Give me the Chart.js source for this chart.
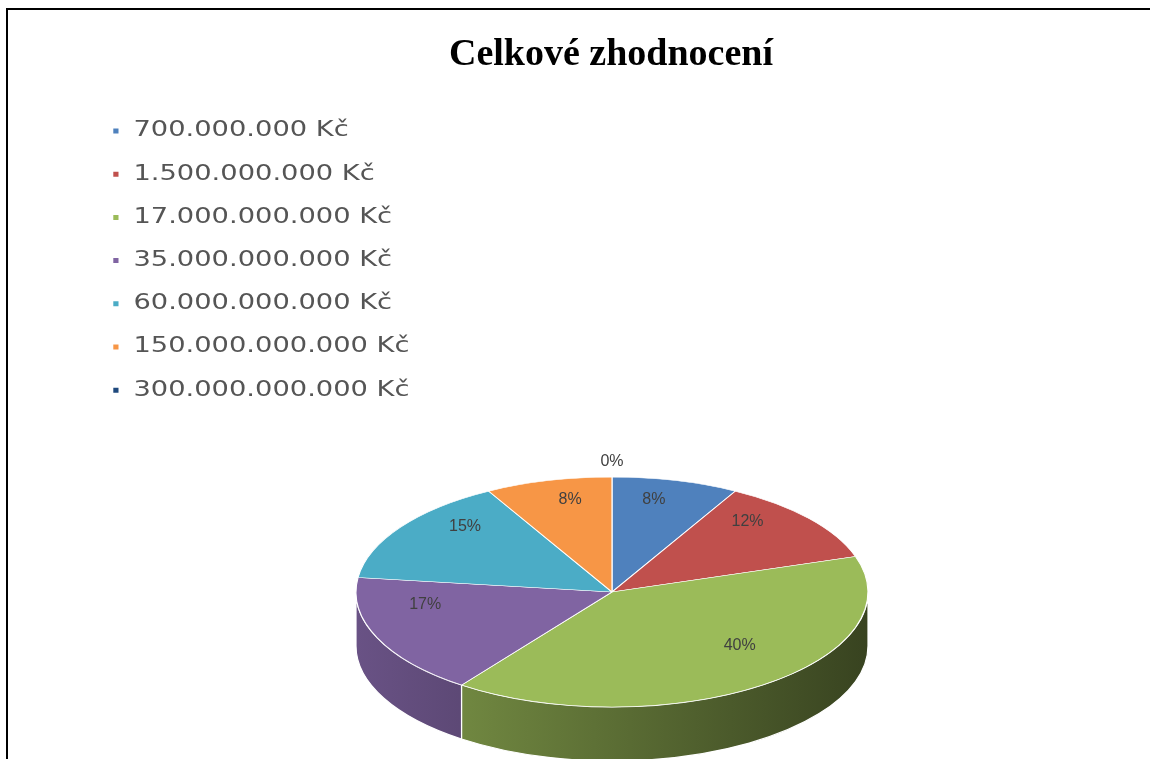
<!DOCTYPE html>
<html><head><meta charset="utf-8">
<script src="https://cdn.jsdelivr.net/npm/chart.js@4.4.0/dist/chart.umd.min.js"></script>
<style>
html,body{margin:0;padding:0;background:#fff;overflow:hidden;width:1150px;height:759px}
#wrap{position:relative;width:1150px;height:759px;overflow:hidden;background:#fff}
#frame{position:absolute;left:6px;top:8px;width:1400px;height:1000px;border-top:2px solid #000;border-left:2px solid #000;pointer-events:none}
canvas{position:absolute;left:0;top:0}
</style></head><body>
<div id="wrap"><canvas id="c" width="1222" height="759"></canvas><div id="frame"></div></div>
<script>
const chartTitle = 'Celkové zhodnocení';
const categories = ['700.000.000 Kč','1.500.000.000 Kč','17.000.000.000 Kč','35.000.000.000 Kč','60.000.000.000 Kč','150.000.000.000 Kč','300.000.000.000 Kč'];
const values = [8, 12, 40, 17, 15, 8, 0];
const colors = ['#4F81BD','#C0504D','#9BBB59','#8064A2','#4BACC6','#F79646','#1F497D'];

// geometry of the tilted pie (styling only)
const PIE = {cx: 612, cy: 592, rx: 256, ry: 115, depth: 54};
// perspective model used to place the data labels like the original
const PERSP = {cy0: 570, A: 110.8, k: -0.191};
const LEGEND_STRETCH = 1.3;

function shade(hex, f) {
  const n = parseInt(hex.slice(1), 16);
  const r = Math.round(((n >> 16) & 255) * f), g = Math.round(((n >> 8) & 255) * f), b = Math.round((n & 255) * f);
  return `rgb(${r},${g},${b})`;
}

const pie3d = {
  id: 'pie3d',
  beforeDraw(chart) {
    const lg = chart.legend;
    if (lg && !lg._stretched) {
      const orig = lg.draw;
      lg.draw = function () {
        const c = this.ctx;
        const px = this.left + this.options.labels.padding;
        c.save();
        c.translate(px, 0); c.scale(LEGEND_STRETCH, 1); c.translate(-px, 0);
        orig.apply(this, arguments);
        c.restore();
      };
      lg._stretched = true;
    }
  },
  beforeDatasetsDraw(chart) {
    const ctx = chart.ctx;
    const meta = chart.getDatasetMeta(0);
    const {cx, cy, rx, ry, depth} = PIE;
    meta.data.forEach((arc, i) => {
      const a0 = Math.max(arc.startAngle, 0), a1 = Math.min(arc.endAngle, Math.PI);
      if (a1 <= a0) return;
      const g = ctx.createLinearGradient(cx - rx, 0, cx + rx, 0);
      g.addColorStop(0, shade(colors[i], 0.82));
      g.addColorStop(1, shade(colors[i], 0.36));
      ctx.save();
      ctx.beginPath();
      ctx.ellipse(cx, cy, rx, ry, 0, a0, a1, false);
      ctx.ellipse(cx, cy + depth, rx, ry, 0, a1, a0, true);
      ctx.closePath();
      ctx.fillStyle = g; ctx.fill();
      ctx.strokeStyle = '#fff'; ctx.lineWidth = 1.2; ctx.stroke();
      ctx.restore();
    });
    const a = meta.data[0];
    const R = a.outerRadius;
    ctx.save();
    ctx.translate(cx, cy); ctx.scale(rx / R, ry / R); ctx.translate(-a.x, -a.y);
  },
  afterDatasetsDraw(chart) {
    const ctx = chart.ctx;
    ctx.restore();
    const meta = chart.getDatasetMeta(0);
    const {cx, rx} = PIE;
    const {cy0, A, k} = PERSP;
    const total = values.reduce((s, v) => s + v, 0);
    ctx.save();
    ctx.font = '16px "Liberation Sans", sans-serif';
    ctx.fillStyle = '#404040';
    ctx.textAlign = 'center'; ctx.textBaseline = 'middle';
    meta.data.forEach((arc, i) => {
      const mid = (arc.startAngle + arc.endAngle) / 2;
      const f = values[i] === 0 ? 1.2 : 0.75;
      const u = f * Math.cos(mid), v = f * Math.sin(mid);
      const d = 1 + k * v;
      const x = cx + rx * u / d, y = cy0 + A * v / d;
      ctx.fillText(Math.round(values[i] / total * 100) + '%', x, y);
    });
    ctx.restore();
  }
};

const baseGen = Chart.overrides.doughnut.plugins.legend.labels.generateLabels;

new Chart(document.getElementById('c'), {
  type: 'pie',
  data: {
    labels: categories,
    datasets: [{data: values, backgroundColor: colors, borderColor: '#ffffff', borderWidth: 1.5, clip: false}]
  },
  options: {
    responsive: false,
    animation: false,
    events: [],
    layout: {padding: {left: 89.8, right: 89.8, top: 0, bottom: 0}},
    plugins: {
      title: {display: true, text: chartTitle, color: '#000', font: {family: "'Liberation Serif', serif", size: 38, weight: 'bold'}, padding: {top: 32, bottom: 20.7}},
      legend: {
        position: 'left', align: 'start', fullSize: false,
        labels: {
          boxWidth: 6, boxHeight: 7, padding: 22.2, color: '#555555',
          font: {family: "'DejaVu Sans', sans-serif", size: 21},
          generateLabels(chart) { return baseGen(chart).map(it => Object.assign(it, {lineWidth: 2, strokeStyle: '#ffffff'})); }
        }
      },
      tooltip: {enabled: false}
    }
  },
  plugins: [pie3d]
});
</script>
</body></html>
